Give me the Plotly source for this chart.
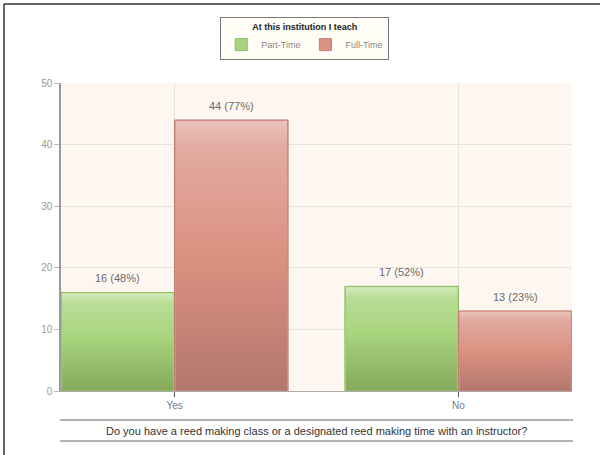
import plotly.graph_objects as go

# Survey responses by teaching status
categories = ["Yes", "No"]
series_names = ["Part-Time", "Full-Time"]
part_time_counts = [16, 17]
part_time_pcts = [48, 52]
full_time_counts = [44, 13]
full_time_pcts = [77, 23]
y_ticks = [0, 10, 20, 30, 40, 50]
legend_title = "At this institution I teach"
axis_title = "Do you have a reed making class or a designated reed making time with an instructor?"

series = [
    (series_names[0], part_time_counts, part_time_pcts,
     "#a9d47f", "#8dbb62", [[0, "#84a95a"], [0.55, "#a8d47e"], [0.9, "#b9dd96"], [1, "#d2eabb"]]),
    (series_names[1], full_time_counts, full_time_pcts,
     "#dc9282", "#bf7f72", [[0, "#b3776d"], [0.5, "#db9181"], [0.9, "#e2aaa0"], [1, "#ebc3bc"]]),
]

BAR_W = 0.4
x_idx = list(range(len(categories)))

fig = go.Figure()
value_labels = []

for s, (name, counts, pcts, color, edge, grad) in enumerate(series):
    offset = (s - 0.5) * BAR_W
    xs = [i + offset for i in x_idx]
    fig.add_trace(go.Bar(
        name=name,
        x=xs,
        y=counts,
        width=BAR_W,
        marker=dict(color=color, line=dict(color=edge, width=1)),
        hovertemplate=name + ": %{y}<extra></extra>",
    ))
    for x, c, p in zip(xs, counts, pcts):
        value_labels.append(dict(
            text=f"{c} ({p}%)",
            x=x, y=c, xref="x", yref="y",
            xanchor="center", yanchor="middle",
            yshift=14,
            showarrow=False,
            font=dict(size=11, color="#6b6b6b"),
        ))

# vertical shading on each bar
for s, (name, counts, pcts, color, edge, grad) in enumerate(series):
    offset = (s - 0.5) * BAR_W
    for i, c in zip(x_idx, counts):
        x0 = i + offset - BAR_W / 2 + 0.004
        x1 = i + offset + BAR_W / 2 - 0.004
        top = c - 0.15
        fig.add_trace(go.Scatter(
            x=[x0, x1, x1, x0, x0],
            y=[0.1, 0.1, top, top, 0.1],
            mode="lines",
            line=dict(width=0),
            fill="toself",
            fillgradient=dict(type="vertical", colorscale=grad),
            showlegend=False,
            hoverinfo="skip",
        ))

fig.update_layout(
    width=600,
    height=455,
    margin=dict(l=61, r=28, t=83, b=64),
    paper_bgcolor="white",
    plot_bgcolor="#fef7f1",
    font=dict(family="Liberation Sans, Arial, sans-serif", color="#666"),
    bargap=0.2,
    showlegend=True,
    legend=dict(
        orientation="h",
        x=0.477, xanchor="center",
        y=1.213, yanchor="top",
        title=dict(text="<b>" + legend_title + "</b>", side="top center",
                   font=dict(size=9, color="#222")),
        font=dict(size=9, color="#888"),
        bgcolor="#fffdf6",
        bordercolor="#777",
        borderwidth=1,
        itemwidth=30,
        tracegroupgap=0,
    ),
    xaxis=dict(
        range=[-0.4, 1.4],
        tickvals=x_idx,
        ticktext=categories,
        showgrid=True,
        gridcolor="#e8e2dc",
        zeroline=False,
        showline=True,
        linecolor="#aaa",
        linewidth=1,
        ticks="outside",
        ticklen=5,
        tickcolor="#555",
        tickfont=dict(size=10, color="#6f7a94"),
    ),
    yaxis=dict(
        range=[0, 50],
        tickvals=y_ticks,
        showgrid=True,
        gridcolor="#e8e2dc",
        zeroline=False,
        showline=True,
        linecolor="#999",
        linewidth=1.5,
        ticks="outside",
        ticklen=5,
        tickcolor="#bbb",
        tickfont=dict(size=10, color="#999"),
    ),
    annotations=value_labels + [dict(
        text=axis_title,
        xref="paper", yref="paper",
        x=0.5, y=-0.13,
        xanchor="center", yanchor="middle",
        showarrow=False,
        font=dict(size=11, color="#333"),
    )],
    shapes=[
        dict(type="line", xref="paper", yref="paper", x0=-0.002, x1=1.002,
             y0=-0.094, y1=-0.094, line=dict(color="#999", width=1.5)),
        dict(type="line", xref="paper", yref="paper", x0=-0.002, x1=1.002,
             y0=-0.162, y1=-0.162, line=dict(color="#999", width=1.5)),
        dict(type="line", xref="paper", yref="paper", x0=-0.1115, x1=1.06,
             y0=1.2565, y1=1.2565, line=dict(color="#333", width=1.5)),
        dict(type="line", xref="paper", yref="paper", x0=-0.1115, x1=-0.1115,
             y0=1.2565, y1=-0.22, line=dict(color="#333", width=1.5)),
    ],
)

fig.write_html("out.html")
